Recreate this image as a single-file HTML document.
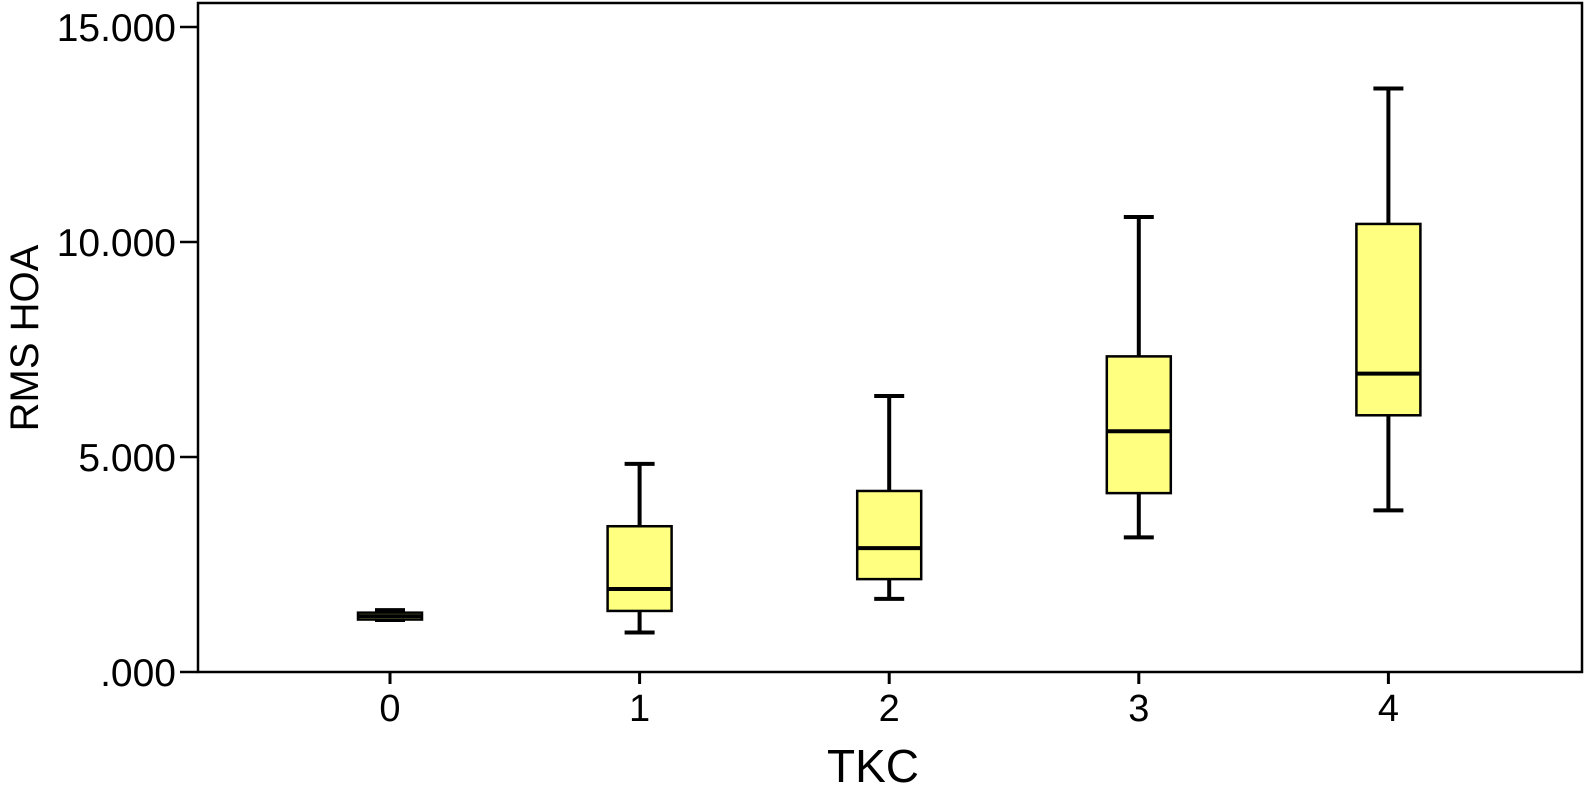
<!DOCTYPE html>
<html><head><meta charset="utf-8"><style>
html,body{margin:0;padding:0;background:#fff;}
svg{display:block;font-family:"Liberation Sans",Arial,sans-serif;}
</style></head><body>
<svg id="chart" width="1584" height="798" viewBox="0 0 1584 798">
<rect x="198" y="3" width="1384" height="669" fill="none" stroke="#000" stroke-width="2.5"/>
<g id="yaxis"></g>
<g id="xaxis"></g>
<g id="boxes"></g>
<text x="873" y="782" font-size="46" text-anchor="middle">TKC</text>
<text transform="translate(38,338) rotate(-90)" font-size="40" text-anchor="middle">RMS HOA</text>
</svg>
<script>
const categories = ["0","1","2","3","4"];
const whiskerLow = [1.21, 0.92, 1.70, 3.13, 3.76];
const q1 = [1.22, 1.42, 2.16, 4.16, 5.97];
const median = [1.30, 1.93, 2.88, 5.60, 6.94];
const q3 = [1.38, 3.39, 4.21, 7.34, 10.42];
const whiskerHigh = [1.44, 4.84, 6.42, 10.58, 13.57];
const yTicks = [0, 5, 10, 15];
const yTickLabels = [".000", "5.000", "10.000", "15.000"];

const NS = "http://www.w3.org/2000/svg";
function y(v){ return 672 - 43 * v; }
function x(i){ return 390 + 249.6 * i; }
function mk(tag, attrs, parent){
  const e = document.createElementNS(NS, tag);
  for (const k in attrs) e.setAttribute(k, attrs[k]);
  parent.appendChild(e);
  return e;
}
const ya = document.getElementById('yaxis');
yTicks.forEach((t, i) => {
  const l = mk('line', {x1:180, x2:198, y1:y(t), y2:y(t), stroke:'#000', 'stroke-width':2.5}, ya);
  
  
  const tx = mk('text', {x:176, y:y(t)+14, 'font-size':39, 'text-anchor':'end'}, ya);
  tx.textContent = yTickLabels[i];
  
  
});
const xa = document.getElementById('xaxis');
categories.forEach((c, i) => {
  const l = mk('line', {x1:x(i), x2:x(i), y1:672, y2:684, stroke:'#000', 'stroke-width':3}, xa);
  
  
  const tx = mk('text', {x:x(i), y:721, 'font-size':38, 'text-anchor':'middle'}, xa);
  tx.textContent = c;
  
  
});
const bx = document.getElementById('boxes');
categories.forEach((c, i) => {
  const g = mk('g', {}, bx);
  
  
  const cx = x(i), hw = 32, cw = 15;
  const s = {stroke:'#000', 'stroke-width':4};
  mk('line', Object.assign({x1:cx, x2:cx, y1:y(whiskerHigh[i]), y2:y(q3[i])}, s), g);
  mk('line', Object.assign({x1:cx, x2:cx, y1:y(q1[i]), y2:y(whiskerLow[i])}, s), g);
  mk('line', Object.assign({x1:cx-cw, x2:cx+cw, y1:y(whiskerHigh[i]), y2:y(whiskerHigh[i])}, s), g);
  mk('line', Object.assign({x1:cx-cw, x2:cx+cw, y1:y(whiskerLow[i]), y2:y(whiskerLow[i])}, s), g);
  const r = mk('rect', {x:cx-hw, y:y(q3[i]), width:2*hw, height:Math.max(1, y(q1[i])-y(q3[i])), fill:'#ffff80', stroke:'#000', 'stroke-width':2.5}, g);
  
  
  const m = mk('line', {x1:cx-hw, x2:cx+hw, y1:y(median[i]), y2:y(median[i]), stroke:'#000', 'stroke-width':4}, g);
  
  
});
</script>
</body></html>
